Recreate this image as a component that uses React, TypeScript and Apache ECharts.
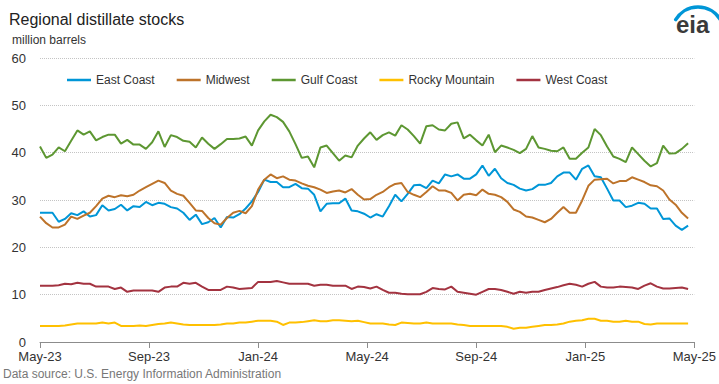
import React, { useEffect, useRef } from "react";
import * as echarts from "echarts";

const xTickLabels = ["May-23", "Sep-23", "Jan-24", "May-24", "Sep-24", "Jan-25", "May-25"];
const seriesNames = ["East Coast", "Midwest", "Gulf Coast", "Rocky Mountain", "West Coast"];
const seriesColors = ["#0096d7", "#bd732a", "#5d9732", "#ffc000", "#a33340"];

const eastCoast = [
  27.3, 27.3, 27.3, 25.4, 26.0, 27.2, 26.8, 27.6, 26.5, 26.8,
  28.9, 27.8, 28.1, 29.0, 27.8, 28.7, 28.5, 29.6, 28.9, 29.4,
  29.2, 28.5, 28.2, 27.3, 25.8, 26.9, 24.9, 25.3, 26.2, 24.2,
  26.4, 26.3, 27.0, 28.2, 29.7, 31.7, 34.3, 33.8, 33.8, 32.7,
  32.7, 33.4, 32.5, 32.4, 31.1, 27.6, 29.2, 29.3, 29.3, 30.3,
  27.8, 27.6, 27.1, 26.3, 27.0, 26.5, 28.7, 31.1, 29.7, 31.3,
  33.1, 33.2, 32.5, 34.1, 33.5, 35.4, 35.0, 35.4, 34.5, 34.5,
  35.4, 37.3, 35.1, 36.6, 34.6, 33.6, 33.2, 32.4, 32.0, 32.3,
  33.2, 33.2, 33.6, 35.0, 35.8, 35.8, 34.3, 36.6, 37.3, 35.0,
  34.8, 32.4, 29.9, 29.9, 28.5, 28.8, 29.4, 29.2, 28.2, 28.2,
  26.0, 26.1, 24.6, 23.7, 24.6,
];

const midwest = [
  26.5, 25.1, 24.2, 24.2, 24.8, 26.5, 26.0, 26.7, 27.3, 28.7,
  30.3, 30.9, 30.6, 31.0, 30.8, 31.1, 32.0, 32.7, 33.4, 34.1,
  33.6, 32.0, 31.3, 30.9, 29.4, 27.8, 27.7, 26.2, 25.1, 24.8,
  26.2, 27.3, 27.7, 27.2, 28.7, 32.2, 34.3, 35.4, 34.6, 35.0,
  34.3, 34.1, 33.5, 33.0, 32.7, 32.2, 31.5, 31.8, 32.0, 31.6,
  32.3, 31.1, 30.1, 30.2, 31.1, 31.7, 32.7, 33.4, 33.6, 31.7,
  31.1, 30.6, 31.7, 32.9, 32.0, 32.0, 31.5, 29.9, 31.1, 31.3,
  31.0, 32.2, 31.3, 31.1, 30.6, 29.6, 28.0, 27.5, 26.5, 26.3,
  25.8, 25.3, 26.0, 27.3, 28.5, 27.3, 27.3, 29.9, 33.0, 34.3,
  34.4, 34.5, 33.5, 34.0, 34.0, 34.8, 34.3, 33.8, 33.1, 32.9,
  32.0, 30.1, 29.0, 27.3, 26.1,
];

const gulfCoast = [
  41.3, 38.9, 39.6, 41.1, 40.3, 42.5, 44.7, 43.8, 44.5, 42.6,
  43.3, 43.8, 43.8, 41.9, 42.7, 41.7, 41.7, 40.8, 42.2, 44.5,
  41.2, 43.7, 43.3, 42.5, 42.3, 41.1, 43.2, 41.9, 40.8, 41.8,
  42.9, 42.9, 43.0, 43.4, 41.5, 44.7, 46.6, 48.0, 47.5, 46.5,
  44.5, 41.8, 38.9, 39.2, 36.9, 41.1, 41.5, 39.9, 38.3, 39.4,
  39.0, 41.5, 43.0, 44.3, 42.7, 43.7, 44.3, 43.6, 45.8, 44.9,
  43.5, 41.9, 45.6, 45.8, 44.9, 44.7, 46.1, 46.4, 43.0, 43.8,
  42.6, 41.5, 43.8, 40.1, 41.5, 41.1, 40.6, 39.9, 40.8, 43.5,
  41.1, 40.8, 40.4, 40.3, 41.1, 38.7, 38.7, 40.0, 41.1, 45.0,
  43.7, 41.3, 39.2, 38.7, 38.0, 41.1, 39.7, 38.3, 37.1, 37.8,
  41.5, 39.8, 39.9, 40.8, 42.0,
];

const rockyMountain = [
  3.4, 3.4, 3.4, 3.4, 3.5, 3.7, 3.9, 3.9, 3.9, 3.9,
  4.1, 3.9, 4.1, 3.4, 3.4, 3.4, 3.5, 3.4, 3.6, 3.8,
  3.9, 4.1, 3.9, 3.7, 3.6, 3.6, 3.6, 3.6, 3.6, 3.7,
  3.9, 3.9, 4.1, 4.1, 4.3, 4.5, 4.5, 4.5, 4.3, 3.6,
  4.1, 4.1, 4.2, 4.4, 4.6, 4.4, 4.4, 4.6, 4.6, 4.5,
  4.4, 4.5, 4.2, 3.9, 3.9, 3.9, 3.7, 3.6, 4.1, 4.0,
  3.9, 3.9, 4.1, 3.9, 3.9, 3.9, 3.9, 3.7, 3.6, 3.4,
  3.4, 3.4, 3.4, 3.4, 3.4, 3.2, 2.8, 3.0, 3.0, 3.2,
  3.4, 3.6, 3.6, 3.7, 3.9, 4.3, 4.5, 4.6, 4.9, 4.9,
  4.5, 4.5, 4.3, 4.3, 4.5, 4.3, 4.3, 3.8, 3.7, 3.9,
  3.9, 3.9, 3.9, 3.9, 3.9,
];

const westCoast = [
  11.9, 11.9, 11.9, 12.0, 12.3, 12.2, 12.5, 12.3, 12.3, 11.7,
  11.7, 11.7, 11.2, 11.5, 10.6, 10.9, 10.9, 10.9, 10.9, 10.6,
  11.5, 11.7, 11.7, 12.5, 12.3, 12.5, 11.7, 11.0, 11.0, 11.0,
  11.7, 11.5, 11.2, 11.3, 11.4, 12.7, 12.7, 12.7, 12.9, 12.6,
  12.3, 12.3, 12.3, 12.3, 11.9, 12.1, 12.1, 11.9, 11.9, 11.9,
  11.2, 11.7, 11.6, 11.3, 11.7, 11.0, 10.4, 10.4, 10.2, 10.1,
  10.1, 10.1, 10.6, 11.4, 11.2, 11.1, 11.7, 10.6, 10.4, 10.2,
  10.0, 10.6, 11.2, 11.2, 11.0, 10.6, 10.2, 10.6, 10.4, 10.6,
  10.6, 11.0, 11.3, 11.6, 12.0, 12.3, 12.1, 11.7, 12.3, 12.7,
  11.7, 11.5, 11.5, 11.7, 11.6, 11.5, 11.2, 11.9, 12.4, 11.7,
  11.3, 11.3, 11.4, 11.5, 11.2,
];

const seriesValues = [eastCoast, midwest, gulfCoast, rockyMountain, westCoast];

const FONT = '"Liberation Sans", Arial, Helvetica, sans-serif';

export default function App() {
  const ref = useRef<HTMLDivElement>(null);

  useEffect(() => {
    document.body.style.margin = "0";
    if (!ref.current) return;
    const chart = echarts.init(ref.current, null, { renderer: "svg" });
    const option = {
      animation: false,
      backgroundColor: "#ffffff",
      textStyle: { fontFamily: FONT },
      title: [
        {
          text: "Regional distillate stocks",
          left: 9,
          top: 11,
          padding: 0,
          textStyle: { fontSize: 16, fontWeight: "normal", color: "#222", fontFamily: FONT },
        },
        {
          text: "million barrels",
          left: 12,
          top: 34,
          padding: 0,
          textStyle: { fontSize: 12, fontWeight: "normal", color: "#333", fontFamily: FONT },
        },
        {
          text: "Data source: U.S. Energy Information Administration",
          left: 3,
          top: 368,
          padding: 0,
          textStyle: { fontSize: 12, fontWeight: "normal", color: "#777", fontFamily: FONT },
        },
      ],
      legend: {
        left: 67,
        top: 74,
        padding: 0,
        itemGap: 22,
        itemWidth: 24,
        itemHeight: 2.5,
        icon: "rect",
        data: seriesNames,
        textStyle: { fontSize: 12, color: "#333", fontFamily: FONT },
      },
      grid: { left: 40, right: 24, top: 58, bottom: 42, containLabel: false },
      xAxis: {
        type: "value",
        min: 0,
        max: 105,
        interval: 17.5,
        axisLine: { show: true, lineStyle: { color: "#8c8c8c", width: 1 } },
        axisTick: { show: true, length: 6, lineStyle: { color: "#8c8c8c" } },
        splitLine: { show: false },
        axisLabel: {
          fontSize: 13,
          color: "#333",
          margin: 8,
          showMinLabel: true,
          showMaxLabel: true,
          formatter: (v: number) => xTickLabels[Math.round(v / 17.5)] ?? "",
        },
      },
      yAxis: {
        type: "value",
        min: 0,
        max: 60,
        interval: 10,
        axisLine: { show: false },
        axisTick: { show: false },
        splitLine: { show: true, lineStyle: { color: "#c4c4c4", type: "dotted", width: 1 } },
        axisLabel: { fontSize: 13, color: "#333", margin: 14 },
      },
      series: seriesNames.map((name, k) => ({
        name,
        type: "line",
        symbol: "none",
        showSymbol: false,
        color: seriesColors[k],
        lineStyle: { width: 2, color: seriesColors[k] },
        data: seriesValues[k].map((v, i) => [i, v]),
        z: k === 4 ? 3 : 2,
      })),
      graphic: [
        {
          type: "arc",
          shape: { cx: 698, cy: 33, r: 26, startAngle: -2.6, endAngle: -0.55, clockwise: true },
          style: { stroke: "#0096d7", lineWidth: 3.5, fill: "none", lineCap: "round" },
        },
        {
          type: "text",
          x: 676,
          y: 24,
          style: {
            text: "eia",
            font: 'bold 24px ' + FONT,
            fill: "#3a3a3a",
            verticalAlign: "middle",
          },
        },
      ],
    };
    chart.setOption(option as any);
    return () => chart.dispose();
  }, []);

  return <div ref={ref} style={{ width: 719, height: 384 }} />;
}
